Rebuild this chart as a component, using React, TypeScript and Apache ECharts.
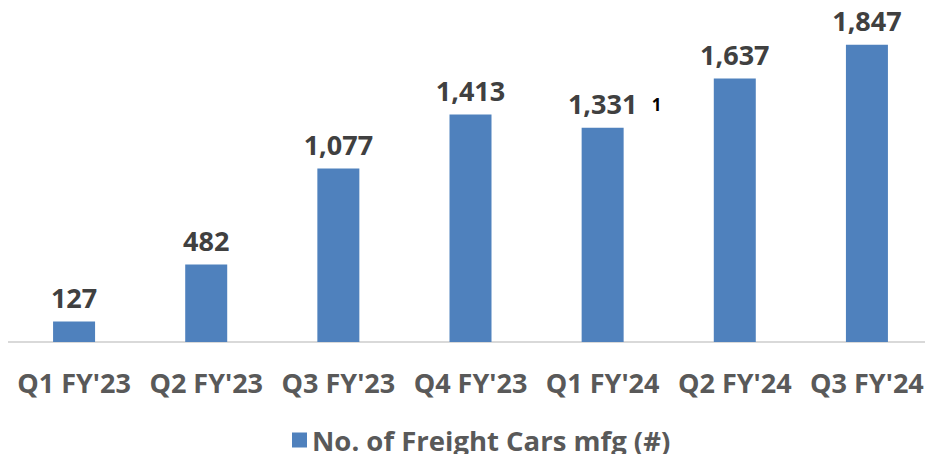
import React, { useEffect, useRef } from "react";
import * as echarts from "echarts";

const categories = ["Q1 FY'23", "Q2 FY'23", "Q3 FY'23", "Q4 FY'23", "Q1 FY'24", "Q2 FY'24", "Q3 FY'24"];
const values = [127, 482, 1077, 1413, 1331, 1637, 1847];
const footnoteIndex = 4;
const footnote = "1";
const seriesName = "No. of Freight Cars mfg (#)";

export default function App() {
  const ref = useRef<HTMLDivElement>(null);
  useEffect(() => {
    const chart = echarts.init(ref.current!, undefined, { renderer: "svg" });
    chart.setOption({
      animation: false,
      textStyle: { fontFamily: "Open Sans" },
      grid: { left: 0, right: -3, top: 20, bottom: 120, containLabel: false },
      legend: {
        left: 279,
        top: 420,
        icon: "rect",
        itemWidth: 15,
        itemHeight: 15,
        itemGap: 10,
        textStyle: { fontSize: 27.5, lineHeight: 30, fontWeight: "bold", color: "#595959", fontFamily: "Open Sans" },
        data: [seriesName],
      },
      xAxis: {
        type: "category",
        data: categories,
        axisLine: { lineStyle: { color: "#D9D9D9", width: 2 } },
        axisTick: { show: false },
        axisLabel: { margin: 27, fontSize: 27, fontWeight: "bold", color: "#595959", fontFamily: "Open Sans", interval: 0 },
      },
      yAxis: { type: "value", min: 0, max: 2000, show: false, splitLine: { show: false } },
      series: [
        {
          name: seriesName,
          type: "bar",
          data: values,
          barWidth: 42,
          itemStyle: { color: "#4F81BD" },
          label: {
            show: true,
            position: "top",
            distance: 10,
            formatter: (p: any) => {
              const s = Number(p.value).toLocaleString("en-US");
              return p.dataIndex === footnoteIndex ? `{sp|}{v|${s}}{s|${footnote}}` : `{v|${s}}`;
            },
            rich: {
              v: { fontSize: 27, lineHeight: 28, fontWeight: "bold", color: "#404040", fontFamily: "Open Sans" },
              sp: { width: 24 },
              s: { fontSize: 17, lineHeight: 18, fontWeight: "bold", color: "#000000", width: 24, align: "right", fontFamily: "Open Sans", padding: [2, 0, 0, 0] },
            },
          },
        },
      ],
    });
    return () => chart.dispose();
  }, []);
  return <div ref={ref} style={{ width: 925, height: 462, marginTop: -8, marginBottom: -8 }} />;
}
